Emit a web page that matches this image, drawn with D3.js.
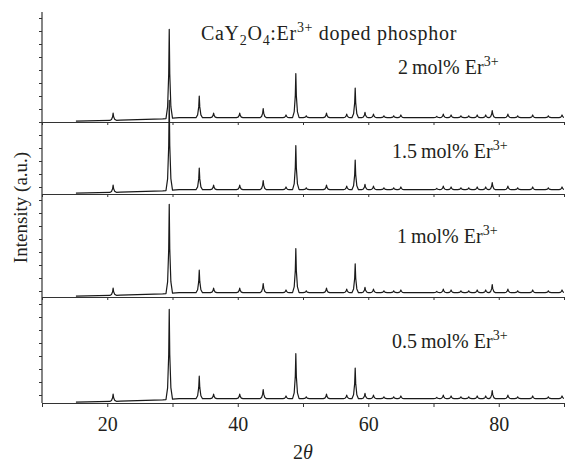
<!DOCTYPE html>
<html>
<head>
<meta charset="utf-8">
<script src="https://cdn.jsdelivr.net/npm/d3@7"></script>
<style>
  body { margin: 0; background: #fff; }
  text { font-family: "Liberation Serif", "Times New Roman", serif; fill: #231f20; }
</style>
</head>
<body>
<svg id="chart" width="566" height="463"></svg>
<script>
// ---- data ----
// Er3+ content of each pattern, top to bottom (mol%)
const dopings = ['2', '1.5', '1', '0.5'];

// Bragg peak positions (2theta, degrees)
const peakPos = [20.9, 29.5, 34.1, 36.3, 40.3, 43.9, 47.4, 48.9, 50.5, 53.6,
  56.7, 58.0, 59.5, 60.8, 62.4, 63.9, 65.0, 70.5, 71.5, 72.7,
  74.2, 75.4, 76.7, 78.0, 79.0, 81.4, 82.9, 85.2, 87.6, 89.7];

// Peak heights per pattern (a.u.), same order as peakPos
const heights2 = [8, 99, 24, 5, 5, 10, 3, 49, 2, 5, 4, 33, 6, 4, 2, 2, 3, 1.5, 4, 3, 2, 2, 3, 3, 8, 4, 2, 3, 2, 3];
const heights15 = [8, 100, 24, 5, 5, 10, 3, 49, 2, 5, 4, 33, 6, 4, 2, 2, 3, 1.5, 4, 3, 2, 2, 3, 3, 8, 4, 2, 3, 2, 3];
const heights1 = [8, 99, 25, 5, 5, 10, 3, 49, 2, 5, 4, 32, 6, 4, 2, 2, 3, 1.5, 4, 3, 2, 2, 3, 3, 9, 4, 2, 3, 2, 3];
const heights05 = [8, 100, 25, 5, 5, 10, 3, 50, 2, 5, 4, 34, 6, 4, 2, 2, 3, 1.5, 4, 3, 2, 2, 3, 3, 9, 4, 2, 3, 2, 3];
const allHeights = [heights2, heights15, heights1, heights05];

// Background level of the scans (a.u.)
const bgPos = [15.2, 22, 28.5, 31, 90];
const bgLevel = [1, 2, 3.5, 4.8, 4.8];

// Axis ticks
const xTicks = [10, 20, 30, 40, 50, 60, 70, 80, 90];
const xTickLabels = [20, 40, 60, 80];

// ---- layout ----
const plotLeft = 42, plotRight = 564, plotTop = 12;
const panelBottoms = [122, 194, 297, 403];
const pxPerUnit = 0.9;

// peak profile (distance from centre in degrees -> fraction of height)
const shapeDist = [0, 0.08, 0.25, 0.5];
const shapeFrac = [1, 0.5, 0.13, 0];

const svg = d3.select('#chart');

const x = d3.scaleLinear().domain([10, 90]).range([plotLeft, plotRight]);
const shape = d3.scaleLinear().domain(shapeDist).range(shapeFrac).clamp(true);
const bg = d3.scaleLinear().domain(bgPos).range(bgLevel).clamp(true);

function profile(heights) {
  const xs = new Set(bgPos);
  peakPos.forEach(p => shapeDist.forEach(d => { xs.add(+(p - d).toFixed(3)); xs.add(+(p + d).toFixed(3)); }));
  return Array.from(xs)
    .filter(v => v >= bgPos[0] && v <= 90)
    .sort((a, b) => a - b)
    .map(v => [v, bg(v) + d3.sum(peakPos, (p, i) => heights[i] * shape(Math.abs(v - p)))]);
}

// left axis line + ticks
const yTickScale = d3.scaleLinear().domain([0, 30]).range([395, 5]);
svg.append('g')
  .attr('transform', `translate(${plotLeft},0)`)
  .call(d3.axisLeft(yTickScale).tickValues(d3.range(0, 30).filter(t => yTickScale(t) >= plotTop + 4)).tickSize(3).tickFormat(''))
  .call(g => g.select('.domain').remove())
  .call(g => g.selectAll('line').attr('stroke', '#333'));
svg.append('line')
  .attr('x1', plotLeft).attr('x2', plotLeft).attr('y1', plotTop).attr('y2', panelBottoms[3])
  .attr('stroke', '#333').attr('stroke-width', 1.2);

// panels
dopings.forEach((dop, i) => {
  const base = panelBottoms[i];
  const y = d3.scaleLinear().domain([0, 100]).range([base, base - 100 * pxPerUnit]);

  const axis = svg.append('g')
    .attr('transform', `translate(0,${base})`)
    .call(d3.axisBottom(x).tickValues(xTicks).tickSizeInner(i === 3 ? 4 : 3).tickSizeOuter(0)
      .tickFormat(d => (i === 3 && xTickLabels.includes(d)) ? d : ''));
  axis.select('.domain').attr('stroke', '#333').attr('stroke-width', 1.2);
  axis.selectAll('line').attr('stroke', '#333');
  axis.selectAll('text')
    .attr('y', 14)
    .style('font-family', '"Liberation Serif", serif')
    .style('font-size', '20px')
    .attr('fill', '#231f20');

  svg.append('path')
    .datum(profile(allHeights[i]))
    .attr('fill', 'none')
    .attr('stroke', '#1a1a1a')
    .attr('stroke-width', 1.2)
    .attr('stroke-linejoin', 'round')
    .attr('d', d3.line().x(d => x(d[0])).y(d => y(d[1])));
});

// pattern labels
const labelPos = [[398, 74], [392, 158], [397, 243], [392, 348]];
dopings.forEach((dop, i) => {
  const t = svg.append('text')
    .attr('x', labelPos[i][0]).attr('y', labelPos[i][1])
    .style('font-size', '20px');
  t.append('tspan').text(dop + '\u2009mol% Er');
  t.append('tspan').attr('dy', -8).style('font-size', '14px').text('3+');
});

// title
const title = svg.append('text').attr('x', 201).attr('y', 40)
  .style('font-size', '20px').style('letter-spacing', '0.7px');
title.append('tspan').text('CaY');
title.append('tspan').attr('dy', 5).style('font-size', '14px').text('2');
title.append('tspan').attr('dy', -5).text('O');
title.append('tspan').attr('dy', 5).style('font-size', '14px').text('4');
title.append('tspan').attr('dy', -5).text(':Er');
title.append('tspan').attr('dy', -8).style('font-size', '14px').text('3+');
title.append('tspan').attr('dy', 8).text(' doped phosphor');

// axis titles
svg.append('text')
  .attr('transform', `translate(27,${(plotTop + panelBottoms[3]) / 2}) rotate(-90)`)
  .attr('text-anchor', 'middle')
  .style('font-size', '19px')
  .text('Intensity (a.u.)');

const xt = svg.append('text')
  .attr('x', (plotLeft + plotRight) / 2).attr('y', 459)
  .attr('text-anchor', 'middle')
  .style('font-size', '20px');
xt.append('tspan').text('2');
xt.append('tspan').style('font-style', 'italic').text('θ');
</script>
</body>
</html>
